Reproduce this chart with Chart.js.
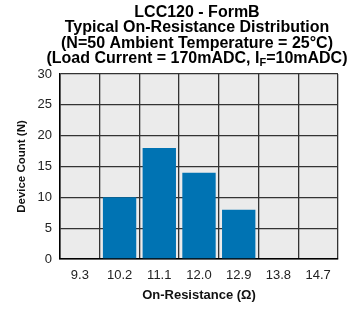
<!DOCTYPE html>
<html>
<head>
<meta charset="utf-8">
<script src="https://cdn.jsdelivr.net/npm/chart.js@4"></script>
<style>
  html, body { margin: 0; padding: 0; background: #fff; }
  #wrap { width: 354px; height: 309px; }
</style>
</head>
<body>
<div id="wrap"><canvas id="grafico" width="354" height="309"></canvas></div>
<script>
// dados
const resistencias = ["9.3", "10.2", "11.1", "12.0", "12.9", "13.8", "14.7"];
const contagem = [0, 10, 18, 14, 8, 0, 0];
const ticksY = [0, 5, 10, 15, 20, 25, 30];

const titulo = [
  "LCC120 - FormB",
  "Typical On-Resistance Distribution",
  "(N=50 Ambient Temperature = 25\u00B0C)"
];
const tituloCarga = ["(Load Current = 170mADC, I", "F", "=10mADC)"];

const FONTE = "'Liberation Sans', Arial, sans-serif";

// fundo cinza da area do grafico + titulo desenhado a mao (subscrito no I_F)
const fundoETitulo = {
  id: "fundoETitulo",
  beforeDraw(chart) {
    const a = chart.chartArea;
    const ctx = chart.ctx;
    ctx.save();
    ctx.fillStyle = "#ebebeb";
    ctx.fillRect(a.left, a.top, a.right - a.left, a.bottom - a.top);
    ctx.restore();
  },
  afterDraw(chart) {
    const ctx = chart.ctx;
    const a = chart.chartArea;
    const cx = (a.left + a.right) / 2 - 2;
    ctx.save();
    ctx.fillStyle = "#000";
    ctx.textBaseline = "middle";
    ctx.textAlign = "center";
    ctx.font = "bold 16px " + FONTE;
    const ys = [12.5, 28, 43.5, 58.5];
    for (let i = 0; i < titulo.length; i++) {
      ctx.fillText(titulo[i], cx, ys[i]);
    }
    // ultima linha com subscrito
    const fGrande = "bold 16px " + FONTE;
    const fPequena = "bold 11px " + FONTE;
    ctx.font = fGrande;
    const w1 = ctx.measureText(tituloCarga[0]).width;
    const w3 = ctx.measureText(tituloCarga[2]).width;
    ctx.font = fPequena;
    const w2 = ctx.measureText(tituloCarga[1]).width;
    let x = cx - (w1 + w2 + w3) / 2;
    ctx.textAlign = "left";
    ctx.font = fGrande;
    ctx.fillText(tituloCarga[0], x, ys[3]);
    x += w1;
    ctx.font = fPequena;
    ctx.fillText(tituloCarga[1], x, ys[3] + 4);
    x += w2;
    ctx.font = fGrande;
    ctx.fillText(tituloCarga[2], x, ys[3]);
    ctx.restore();
  }
};

const ctx = document.getElementById("grafico");

new Chart(ctx, {
  type: "bar",
  data: {
    labels: resistencias,
    datasets: [{
      label: "Device Count",
      data: contagem,
      backgroundColor: "#0073b3",
      borderWidth: 0,
      barPercentage: 0.84,
      categoryPercentage: 1.0
    }]
  },
  options: {
    responsive: false,
    animation: false,
    devicePixelRatio: 1,
    layout: {
      padding: { top: 74, right: 16, left: 15, bottom: 0 }
    },
    plugins: {
      legend: { display: false },
      title: { display: false },
      tooltip: { enabled: false }
    },
    scales: {
      x: {
        grid: {
          offset: true,
          color: "#333",
          lineWidth: 1.3,
          drawTicks: false
        },
        border: { color: "#000", width: 1.5 },
        ticks: {
          color: "#222",
          font: { family: FONTE, size: 13 },
          padding: 9
        },
        title: {
          display: true,
          text: "On-Resistance (\u03A9)",
          color: "#111",
          font: { family: FONTE, size: 13, weight: "bold" },
          padding: { top: 2, bottom: 6 }
        },
        afterFit(scale) { scale.height = 50; }
      },
      y: {
        min: 0,
        max: 30,
        afterBuildTicks(scale) {
          scale.ticks = ticksY.map(v => ({ value: v }));
        },
        grid: {
          color: "#333",
          lineWidth: 1.3,
          drawTicks: false
        },
        border: { color: "#000", width: 1.5 },
        ticks: {
          color: "#222",
          font: { family: FONTE, size: 13 },
          padding: 8
        },
        title: {
          display: true,
          text: "Device Count (N)",
          color: "#111",
          font: { family: FONTE, size: 11.5, weight: "bold" },
          padding: { top: 0, bottom: 4 }
        },
        afterFit(scale) { scale.width = 45; }
      }
    }
  },
  plugins: [fundoETitulo]
});
</script>
</body>
</html>
